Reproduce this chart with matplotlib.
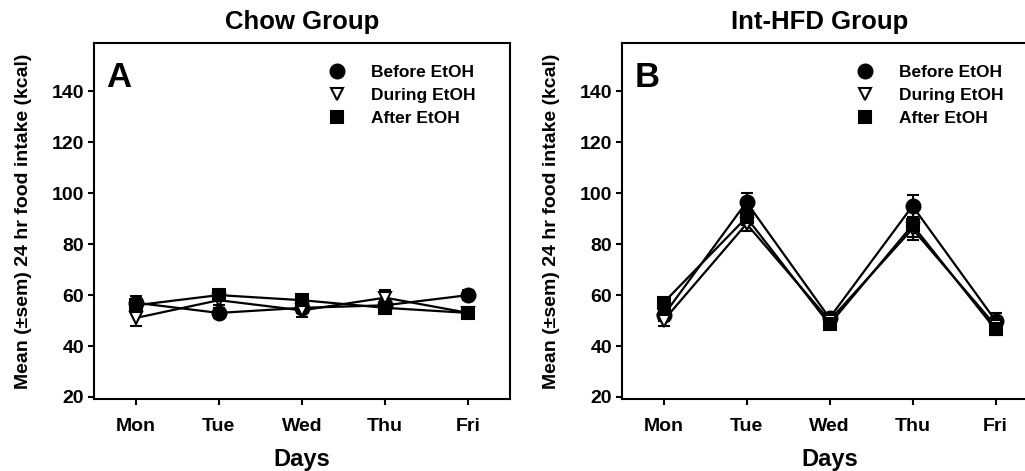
import matplotlib
matplotlib.use("Agg")
import matplotlib.pyplot as plt
from matplotlib.lines import Line2D

plt.rcParams['font.family'] = ['Liberation Sans', 'DejaVu Sans']
plt.rcParams['font.weight'] = 'bold'

days = ["Mon", "Tue", "Wed", "Thu", "Fri"]
series = ["Before EtOH", "During EtOH", "After EtOH"]

chow_before = [57, 53, 55, 56, 60]
chow_during = [51, 58, 54, 59, 53]
chow_after = [56, 60, 58, 55, 53]
chow_before_err = [2.5, 2.0, 2.0, 2.0, 2.0]
chow_during_err = [3.0, 2.0, 2.5, 3.0, 2.0]
chow_after_err = [2.0, 1.5, 1.5, 2.0, 2.0]

hfd_before = [52, 96.5, 51, 95, 50]
hfd_during = [50, 88, 50, 86, 48]
hfd_after = [57, 90.5, 48.5, 87.5, 46.5]
hfd_before_err = [2.0, 3.5, 2.0, 4.5, 3.0]
hfd_during_err = [2.0, 3.0, 2.0, 3.0, 2.0]
hfd_after_err = [2.0, 3.0, 2.0, 6.0, 2.0]

W, H = 1025, 471
fig = plt.figure(figsize=(W / 100, H / 100), dpi=100)

def frac(x0, y0, x1, y1):
    return [x0 / W, 1 - y1 / H, (x1 - x0) / W, (y1 - y0) / H]

ax1 = fig.add_axes(frac(94, 43, 510, 399))
ax2 = fig.add_axes(frac(622, 43, 1037, 399))

markers = ['o', 'v', 's']
faces = ['black', 'white', 'black']
msizes = [10, 9, 9]

def draw(ax, vals, errs, letter, title, tx):
    x = list(range(1, len(days) + 1))
    for v, e, m, fc, ms in zip(vals, errs, markers, faces, msizes):
        ax.errorbar(x, v, yerr=e, color='black', lw=1.6, marker=m, ms=ms,
                    mfc=fc, mec='black', mew=1.5, capsize=4, capthick=1.5,
                    elinewidth=1.5, zorder=3)
    ax.set_xlim(0.5, 5.5)
    ax.set_ylim(19.2, 159)
    ax.set_xticks(x)
    ax.set_xticklabels(days, fontsize=14, fontweight='bold')
    ax.set_yticks([20, 40, 60, 80, 100, 120, 140])
    ax.tick_params(axis='both', direction='out', length=4, width=1.5,
                   labelsize=14, pad=3)
    ax.tick_params(axis='x', pad=10)
    for s in ax.spines.values():
        s.set_linewidth(1.5)
    ax.set_xlabel("Days", fontsize=17, fontweight='bold', labelpad=9)
    ax.set_ylabel("Mean (\u00b1sem) 24 hr food intake (kcal)", fontsize=14,
                  fontweight='bold', labelpad=14)
    ax.text(0.03, 0.95, letter, transform=ax.transAxes, fontsize=25,
            fontweight='bold', va='top', ha='left')
    fig.text(tx, 1 - 22 / H, title, fontsize=18.5, fontweight='bold',
             ha='center', va='center')
    handles = [Line2D([], [], ls='none', marker=m, ms=ms, mfc=fc, mec='black',
                      mew=1.5, color='black')
               for m, fc, ms in zip(markers, faces, msizes)]
    return handles

leg_kw = dict(loc='upper left', frameon=False, fontsize=12.5,
              handletextpad=1.45, labelspacing=0.45, handlelength=1.0,
              borderaxespad=0, borderpad=0)

h = draw(ax1, [chow_before, chow_during, chow_after],
         [chow_before_err, chow_during_err, chow_after_err], "A", "Chow Group", 302 / W)
ax1.legend(h, series, bbox_to_anchor=(0.564, 0.938), **leg_kw)
h = draw(ax2, [hfd_before, hfd_during, hfd_after],
         [hfd_before_err, hfd_during_err, hfd_after_err], "B", "Int-HFD Group", 820 / W)
ax2.legend(h, series, bbox_to_anchor=(0.564, 0.938), **leg_kw)

fig.savefig("out.png", dpi=100)
